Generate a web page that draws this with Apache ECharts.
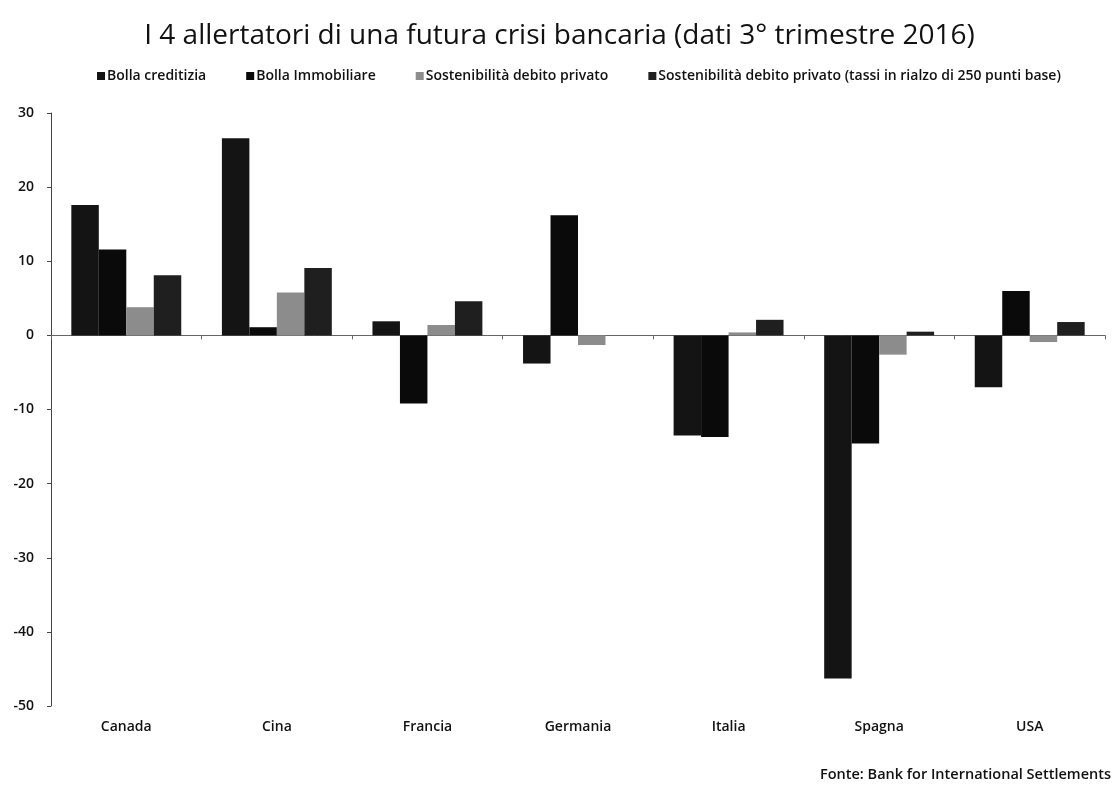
<!DOCTYPE html>
<html>
<head>
<meta charset="utf-8">
<script src="https://cdn.jsdelivr.net/npm/echarts@6/dist/echarts.min.js"></script>
<style>html,body{margin:0;padding:0;background:#fff}#c{width:1119px;height:787px}</style>
</head>
<body>
<div id="c"></div>
<script>
const categories = ['Canada', 'Cina', 'Francia', 'Germania', 'Italia', 'Spagna', 'USA'];
const seriesNames = ['Bolla creditizia', 'Bolla Immobiliare', 'Sostenibilità debito privato', 'Sostenibilità debito privato (tassi in rialzo di 250 punti base)'];
const bollaCreditizia = [17.6, 26.6, 1.9, -3.8, -13.5, -46.3, -7.0];
const bollaImmobiliare = [11.6, 1.1, -9.2, 16.2, -13.7, -14.6, 6.0];
const sostenibilita = [3.8, 5.8, 1.4, -1.3, 0.4, -2.6, -0.9];
const sostenibilita250 = [8.1, 9.1, 4.6, 0, 2.1, 0.5, 1.8];
const yTicks = {min: -50, max: 30, interval: 10};

const colors = ['#141414', '#0a0a0a', '#8c8c8c', '#1f1f1f'];
const values = [bollaCreditizia, bollaImmobiliare, sostenibilita, sostenibilita250];
const font = "'Open Sans', 'Liberation Sans', sans-serif";

const chart = echarts.init(document.getElementById('c'), null, {renderer: 'canvas'});
chart.setOption({
  animation: false,
  backgroundColor: '#fff',
  title: [{
    text: 'I 4 allertatori di una futura crisi bancaria (dati 3° trimestre 2016)',
    left: 'center', top: 17,
    textStyle: {fontFamily: font, fontSize: 28, fontWeight: 'normal', color: '#111'}
  }, {
    text: 'Fonte: Bank for International Settlements',
    right: 3, top: 762,
    textStyle: {fontFamily: font, fontSize: 14.5, fontWeight: 600, color: '#111'}
  }],
  legend: {
    data: seriesNames,
    top: 64, left: 92,
    itemWidth: 8, itemHeight: 8, itemGap: 40,
    icon: 'rect',
    textStyle: {fontFamily: font, fontSize: 14, fontWeight: 600, color: '#111', padding: [0, 0, 0, -3]}
  },
  grid: {left: 51, right: 14, top: 113, bottom: 81},
  xAxis: [{
    type: 'category', data: categories, position: 'bottom',
    axisLine: {show: false, onZero: false},
    axisTick: {show: false},
    axisLabel: {fontFamily: font, fontSize: 14, fontWeight: 600, color: '#111', margin: 14}
  }, {
    type: 'category', data: categories, position: 'bottom',
    axisLine: {show: true, onZero: true, lineStyle: {color: '#666', width: 1}},
    axisTick: {show: true, length: 4, lineStyle: {color: '#666'}},
    axisLabel: {show: false}
  }],
  yAxis: {
    type: 'value', min: yTicks.min, max: yTicks.max, interval: yTicks.interval,
    axisLine: {show: true, lineStyle: {color: '#444', width: 1}},
    axisTick: {show: true, length: 4, lineStyle: {color: '#444'}},
    splitLine: {show: false},
    axisLabel: {fontFamily: font, fontSize: 14, fontWeight: 600, color: '#111', margin: 17}
  },
  series: seriesNames.map((n, i) => ({
    name: n, type: 'bar', xAxisIndex: 0, data: values[i],
    barGap: '0%', barCategoryGap: '27%',
    itemStyle: {color: colors[i]}
  }))
});
</script>
</body>
</html>
